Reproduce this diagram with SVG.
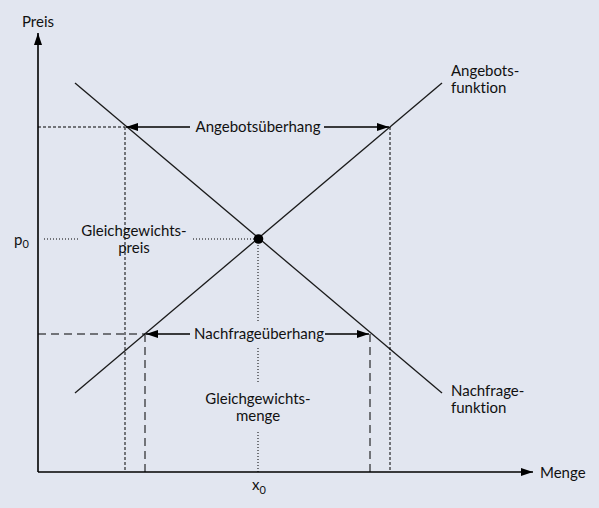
<svg xmlns="http://www.w3.org/2000/svg" width="599" height="508" viewBox="0 0 599 508">
<defs>
<style>
text{font-family:Lato,"Open Sans","Liberation Sans",sans-serif;font-size:15px;fill:#111;font-variant-ligatures:none}
.ax{stroke:#000;stroke-width:1.6;fill:none}
.cv{stroke:#1a1a1a;stroke-width:1.3;fill:none}
.sd{stroke:#000;stroke-width:1;stroke-dasharray:3 2;fill:none}
.dt{stroke:#000;stroke-width:1;stroke-dasharray:1 2;fill:none}
.ld{stroke:#000;stroke-width:1;stroke-dasharray:8 5;fill:none}
.ar{stroke:#000;stroke-width:1.3;fill:none}
</style>
<marker id="ah" viewBox="0 0 12 8" refX="12" refY="4" markerWidth="12" markerHeight="8" markerUnits="userSpaceOnUse" orient="auto"><path d="M0,0L12,4L0,8z" fill="#000"/></marker>
</defs>
<rect width="599" height="508" fill="#e2e6f0"/>
<g id="connectors">
<line class="ax" x1="38" y1="472" x2="38" y2="33" marker-end="url(#ah)"/>
<line class="ax" x1="38" y1="472" x2="533" y2="472" marker-end="url(#ah)"/>
<line class="cv" x1="75" y1="83" x2="442" y2="393"/>
<line class="cv" x1="75" y1="393" x2="442" y2="83"/>
<line class="sd" x1="38" y1="127" x2="125" y2="127"/>
<line class="sd" x1="125" y1="127" x2="125" y2="472"/>
<line class="sd" x1="390" y1="127" x2="390" y2="472"/>
<line class="ar" x1="190" y1="127" x2="126" y2="127" marker-end="url(#ah)"/>
<line class="ar" x1="324" y1="127" x2="389" y2="127" marker-end="url(#ah)"/>
<line class="dt" x1="44" y1="239" x2="80" y2="239"/>
<line class="dt" x1="193" y1="239" x2="256" y2="239"/>
<line class="dt" x1="258" y1="242" x2="258" y2="322"/>
<line class="dt" x1="258" y1="348" x2="258" y2="383"/>
<line class="dt" x1="258" y1="432" x2="258" y2="472"/>
<line class="ld" x1="38" y1="334" x2="145" y2="334"/>
<line class="ld" x1="145" y1="334" x2="145" y2="472"/>
<line class="ld" x1="370" y1="334" x2="370" y2="472"/>
<line class="ar" x1="190" y1="334" x2="146" y2="334" marker-end="url(#ah)"/>
<line class="ar" x1="325" y1="334" x2="369" y2="334" marker-end="url(#ah)"/>
</g>
<g id="equilibrium"><circle cx="258.5" cy="239" r="4.8" fill="#000"/></g>
<g id="label-preis"><text x="22" y="27">Preis</text></g>
<g id="label-menge"><text x="540" y="478">Menge</text></g>
<g id="label-p0"><text x="14" y="245">p<tspan font-size="11" dy="3">0</tspan></text></g>
<g id="label-x0"><text x="252" y="490">x<tspan font-size="11" dy="4">0</tspan></text></g>
<g id="label-angebot"><text x="451" y="76">Angebots-</text><text x="451" y="93">funktion</text></g>
<g id="label-nachfrage"><text x="451" y="396">Nachfrage-</text><text x="451" y="413">funktion</text></g>
<g id="label-angebotsueberhang"><text x="258" y="132" text-anchor="middle">Angebotsüberhang</text></g>
<g id="label-nachfrageueberhang"><text x="259" y="339" text-anchor="middle">Nachfrageüberhang</text></g>
<g id="label-gwpreis"><text x="134" y="236" text-anchor="middle">Gleichgewichts-</text><text x="134" y="253" text-anchor="middle">preis</text></g>
<g id="label-gwmenge"><text x="258" y="404" text-anchor="middle">Gleichgewichts-</text><text x="258" y="421" text-anchor="middle">menge</text></g>
</svg>
